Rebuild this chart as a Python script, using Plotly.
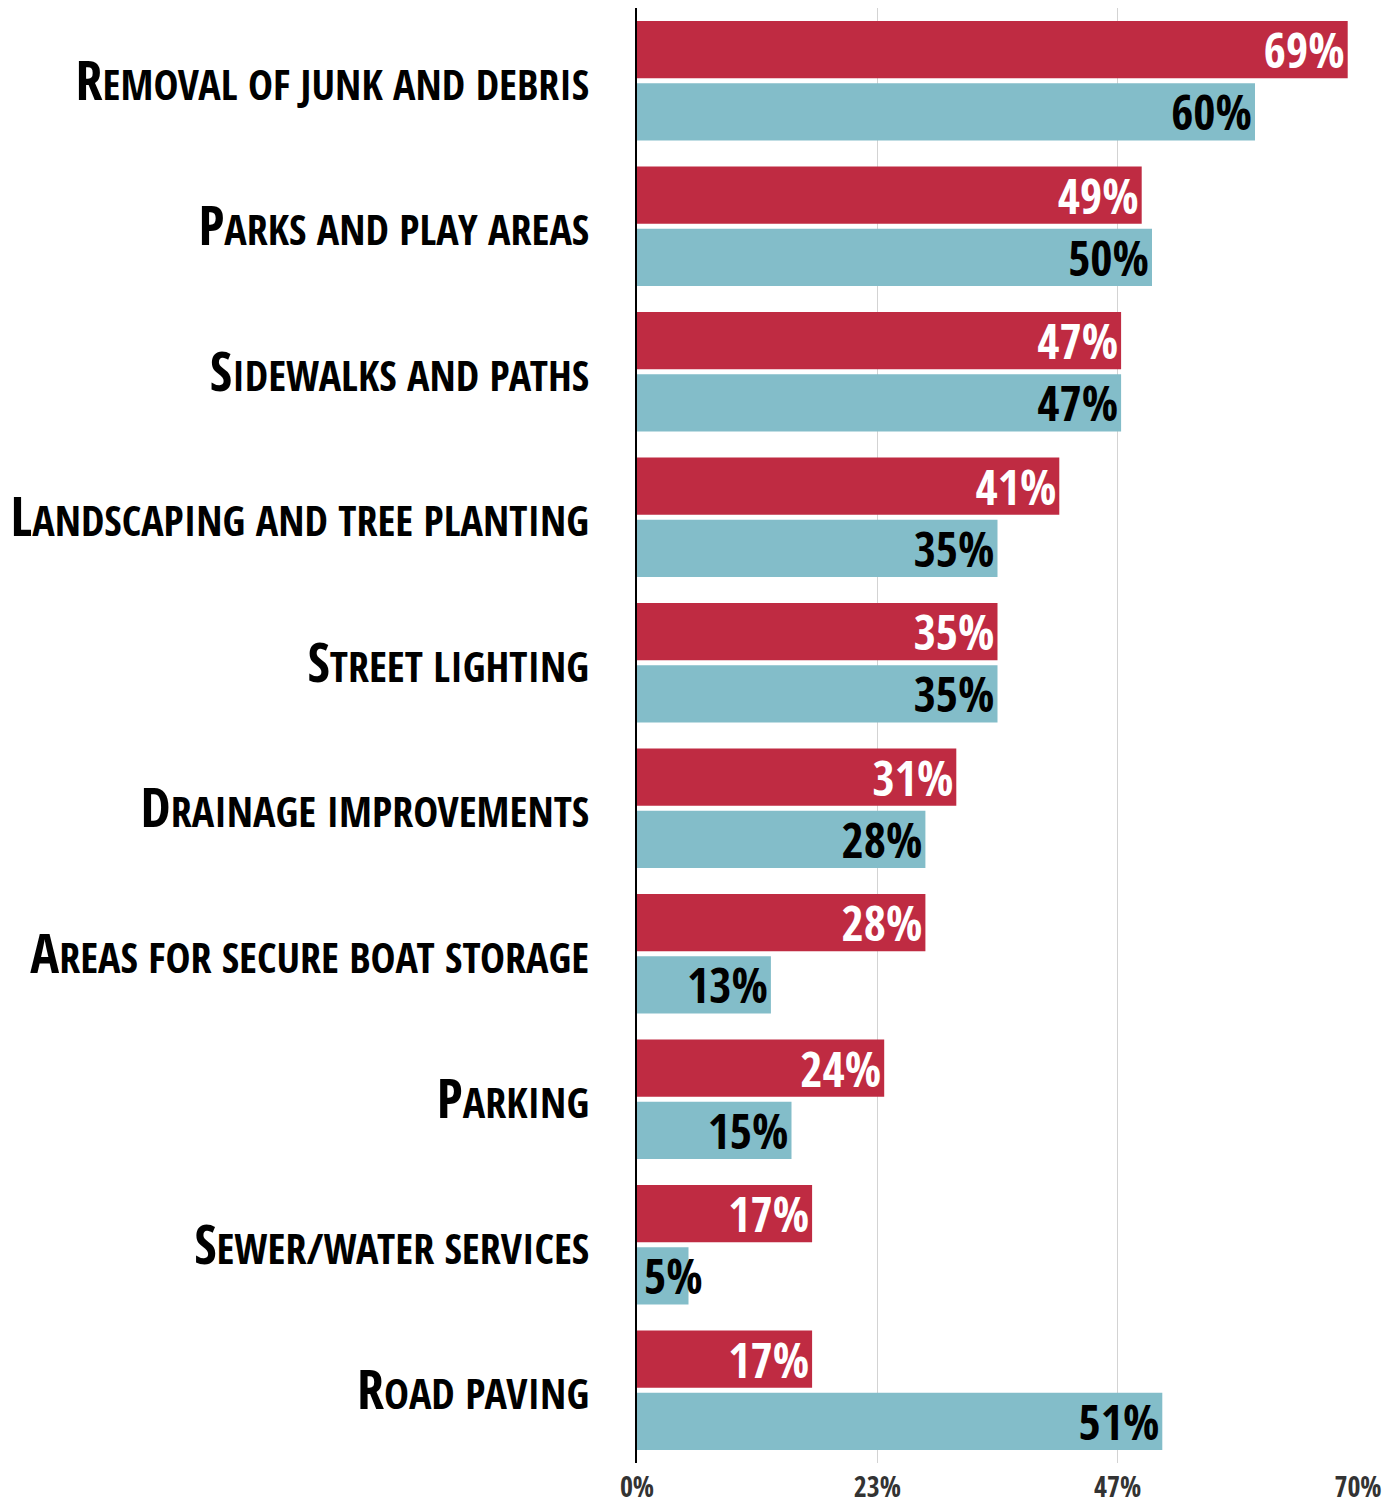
import plotly.graph_objects as go

# Survey: share of respondents naming each improvement as a priority
categories = [
    "Removal of junk and debris",
    "Parks and play areas",
    "Sidewalks and paths",
    "Landscaping and tree planting",
    "Street lighting",
    "Drainage improvements",
    "Areas for secure boat storage",
    "Parking",
    "Sewer/water services",
    "Road paving",
]
series_red = [69, 49, 47, 41, 35, 31, 28, 24, 17, 17]
series_teal = [60, 50, 47, 35, 35, 28, 13, 15, 5, 51]

tick_vals = [0, 70 / 3, 140 / 3, 70]
tick_text = ["0%", "23%", "47%", "70%"]

RED = "#BF2B42"
TEAL = "#83BDC9"
FONT = "Open Sans Condensed"
VALUE_SIZE = 48
NARROW = 8  # bars shorter than this get their label starting at the base


def small_caps(label, small=42):
    # first letter full size, the rest as small capitals
    return f"{label[0]}<span style='font-size:{small}px'>{label[1:].upper()}</span>"


labels = [small_caps(c) for c in categories]


def bar_text(values):
    return [f"{v}%" if v >= NARROW else "" for v in values]


fig = go.Figure()
fig.add_trace(go.Bar(
    y=labels, x=series_red, orientation="h", marker=dict(color=RED, line=dict(width=0)),
    text=bar_text(series_red), textposition="inside", insidetextanchor="end",
    constraintext="none", textangle=0,
    textfont=dict(family=FONT, size=VALUE_SIZE, weight="bold", color="white"),
    hoverinfo="skip", showlegend=False,
))
fig.add_trace(go.Bar(
    y=labels, x=series_teal, orientation="h", marker=dict(color=TEAL, line=dict(width=0)),
    text=bar_text(series_teal), textposition="inside", insidetextanchor="end",
    constraintext="none", textangle=0,
    textfont=dict(family=FONT, size=VALUE_SIZE, weight="bold", color="black"),
    hoverinfo="skip", showlegend=False,
))

# labels for very short bars start at the bar base and run past its end
for series, yshift, color in ((series_red, 31, "white"), (series_teal, -31, "black")):
    for lab, v in zip(labels, series):
        if v < NARROW:
            fig.add_annotation(
                x=0, y=lab, xref="x", yref="y", text=f"{v}%", showarrow=False,
                xanchor="left", yanchor="middle", xshift=5, yshift=yshift,
                font=dict(family=FONT, size=VALUE_SIZE, weight="bold", color=color),
            )

fig.update_layout(
    width=1398, height=1509,
    margin=dict(l=637, r=40, t=8, b=46),
    barmode="group", bargap=0.143, bargroupgap=0.08,
    plot_bgcolor="white", paper_bgcolor="white",
)
fig.update_xaxes(
    range=[0, 70], tickvals=tick_vals, ticktext=tick_text,
    showgrid=True, gridcolor="#d3d3d3", gridwidth=1, zeroline=False,
    tickfont=dict(family=FONT, size=28, weight="bold", color="#333333"),
    ticks="", ticklabelstandoff=5, automargin=False,
)
fig.update_yaxes(
    autorange="reversed", showgrid=False, zeroline=False,
    showline=True, linecolor="black", linewidth=2,
    tickfont=dict(family=FONT, size=54, color="black"),
    ticks="", ticklabelstandoff=35, automargin=False,
)
fig.write_html("out.html")
